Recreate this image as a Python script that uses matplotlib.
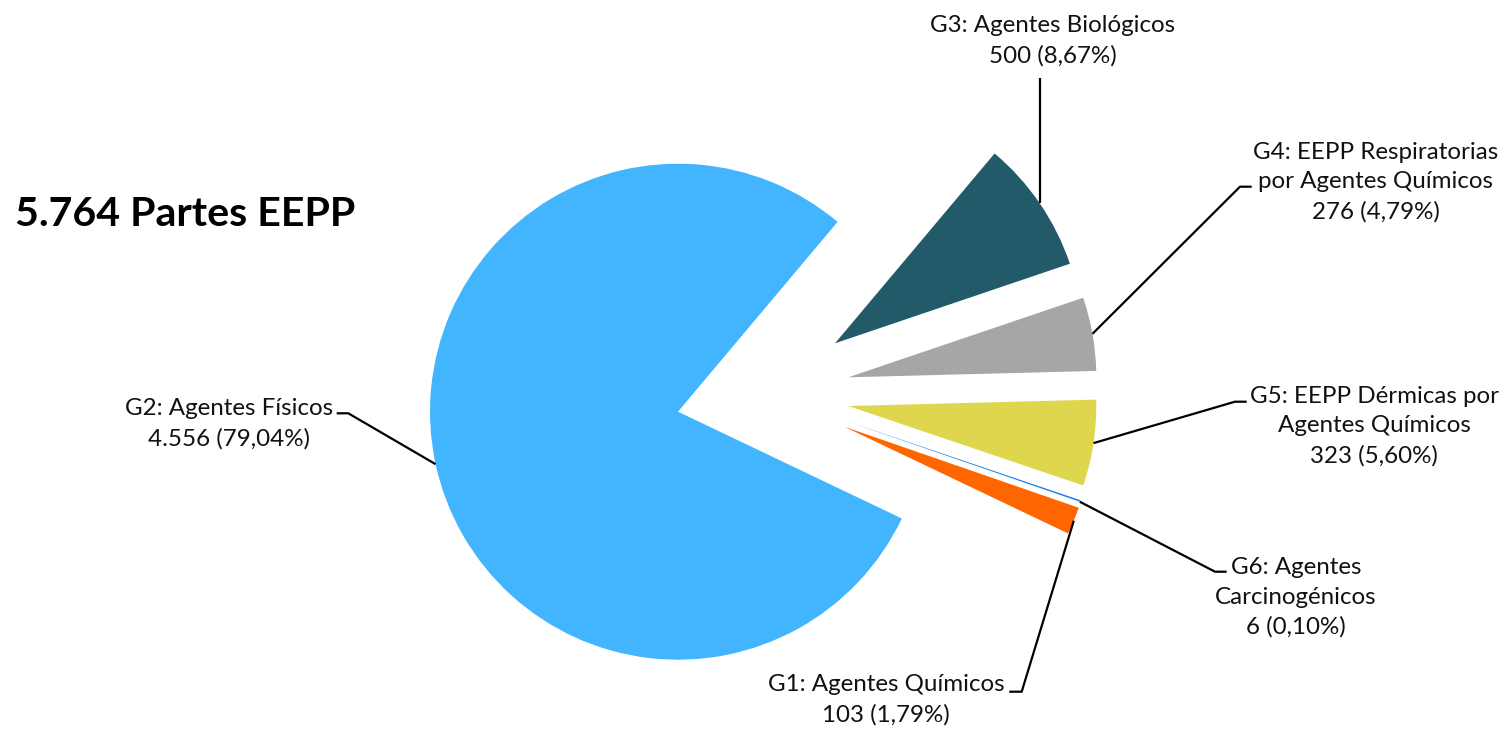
import numpy as np
import matplotlib
matplotlib.use("Agg")
import matplotlib.pyplot as plt

# DATA
groups = ["G1", "G2", "G3", "G4", "G5", "G6"]
names = ["Agentes Químicos", "Agentes Físicos", "Agentes Biológicos",
         "EEPP Respiratorias\npor Agentes Químicos",
         "EEPP Dérmicas por\nAgentes Químicos",
         "Agentes\nCarcinogénicos"]
values = [103, 4556, 500, 276, 323, 6]
pcts = ["1,79%", "79,04%", "8,67%", "4,79%", "5,60%", "0,10%"]
counts = ["103", "4.556", "500", "276", "323", "6"]
colors = ["#FF6600", "#43B5FF", "#225A69", "#A6A6A6", "#DED74E", "#1A7FE8"]
total_label = "5.764 Partes EEPP"

W, H = 1503, 731
plt.rcParams["font.family"] = ["Lato", "DejaVu Sans"]

fig = plt.figure(figsize=(W / 100, H / 100), dpi=100)
ax = fig.add_axes([0, 0, 1, 1])

cx, cy, R = 678, H - 411.7, 248
wedges, _ = ax.pie(values, colors=colors, startangle=-19.07, counterclock=False,
                   radius=R, center=(cx, cy), wedgeprops=dict(linewidth=0))

# slice shifts (pixels, x right / y up)
shifts = [(166.3, -15), (0, 0), (157, 68.4), (170.3, 34.4), (170.3, 5.7), (167.4, -9)]
for w, (dx, dy) in zip(wedges, shifts):
    w.set_center((cx + dx, cy + dy))

ax.set_xlim(0, W)
ax.set_ylim(0, H)
ax.set_aspect("equal")
ax.axis("off")

# label layout: text centre, elbow point, end of horizontal tick (image coords)
label_pos = {
    "G1": ((886, 700), (1021.7, 691.7), (1009.3, 691.7)),
    "G2": ((229, 424), (348.3, 413.3), (336.7, 413.3)),
    "G3": ((1053, 41), (1039.5, 78), (1039.5, 78)),
    "G4": ((1376, 182), (1240, 186.7), (1251.7, 186.7)),
    "G5": ((1374, 426), (1235, 401.7), (1246.7, 401.7)),
    "G6": ((1296, 597.5), (1215, 571.7), (1226.7, 571.7)),
}

for i, w in enumerate(wedges):
    g = groups[i]
    (tx, ty), (ex, ey), (hx, hy) = label_pos[g]
    mid = np.deg2rad((w.theta1 + w.theta2) / 2)
    if g == "G6":
        mid = np.deg2rad(w.theta1)
    wx, wy = w.center
    ax_, ay_ = wx + R * np.cos(mid), wy + R * np.sin(mid)
    if g == "G3":
        ax_ = ex
    ax.plot([ax_, ex, hx], [ay_, H - ey, H - hy], color="black", lw=1.6,
            solid_capstyle="butt")
    txt = f"{g}: {names[i]}\n{counts[i]} ({pcts[i]})"
    ax.text(tx, H - ty, txt, ha="center", va="center", fontsize=17.4,
            linespacing=1.5, color="#111111")

ax.text(15, H - 214, total_label, ha="left", va="center", fontsize=29.6,
        fontweight="bold", color="black")

fig.savefig("out.png", dpi=100)
